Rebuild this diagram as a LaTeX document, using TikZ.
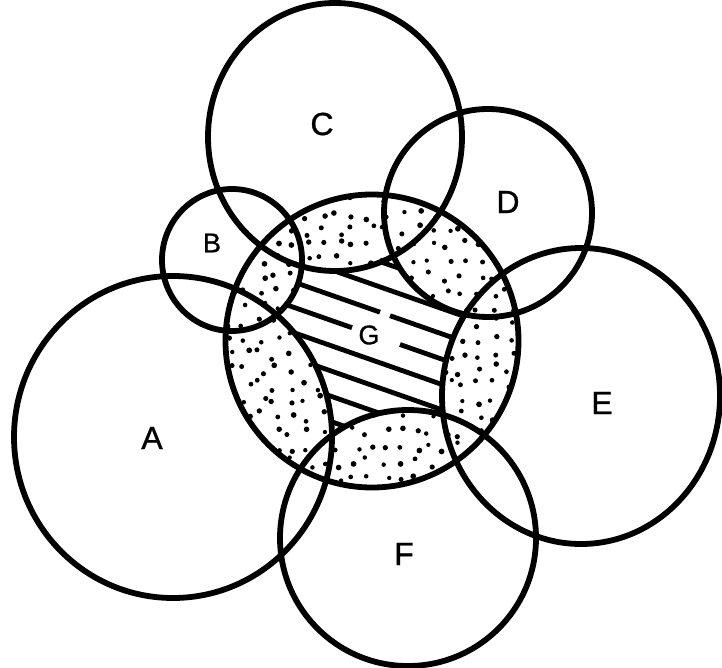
\documentclass[tikz,border=0pt]{standalone}
\usepackage{fontspec}
\setmainfont{Liberation Sans}
\newfontfamily\lblfont[FakeBold=1]{Liberation Sans}
\begin{document}
\begin{tikzpicture}[x=1pt,y=-1pt,
  ring/.style={line width=5.8pt},
  hatchline/.style={line width=4.8pt},
  lbl/.style={font=\lblfont\fontsize{32}{32}\selectfont, inner sep=0pt},
  lblsmall/.style={font=\lblfont\fontsize{27}{27}\selectfont, inner sep=0pt},
  stipdot/.style={fill=black}]
\useasboundingbox (0,0) rectangle (722,668);
\def\shapelist{173/437/159/161, 232/260/70/71, 335/137/127/134, 488/213/104/104, 581/396/139/148, 408/538/128/128}
% hatching inside G
\begin{scope}
  \clip (372,341) circle [radius=146.5];
  \foreach \k in {-3,-2,1,2,3,4} {
    \draw[hatchline] (200,{334+25.3*\k-0.35*170}) -- (560,{334+25.3*\k+0.35*190});
  }
  \draw[hatchline] (200,249.2) -- (380,312.2);
  \draw[hatchline] (390,315.7) -- (560,375.2);
  \draw[hatchline] (200,274.5) -- (352,327.7);
  \draw[hatchline] (400,344.5) -- (560,400.5);
\end{scope}
% stippled overlaps of G with the other circles
\foreach \cx/\cy/\rx/\ry in \shapelist {
  \begin{scope}
    \clip (372,341) circle [radius=146.5];
    \clip (\cx,\cy) ellipse [x radius=\rx, y radius=\ry];
    \fill[white] (220,190) rectangle (525,495);
    \pgfmathsetseed{12345}
    \foreach \i in {0,...,19} {
      \foreach \j in {0,...,19} {
        \fill[stipdot] ({230+15.5*\i+5.5*rand},{199+15.5*\j+5.5*rand}) circle [radius={2.5+0.4*rand}];
      }
    }
  \end{scope}
}
% circle outlines
\foreach \cx/\cy/\rx/\ry in \shapelist {
  \draw[ring] (\cx,\cy) ellipse [x radius=\rx, y radius=\ry];
}
\draw[ring] (372,341) circle [radius=146.5];
% labels
\node[lbl] (labA) at (152,438) {A};
\node[lblsmall] (labB) at (212,243) {B};
\node[lbl] (labC) at (322,124) {C};
\node[lbl] (labD) at (508,202) {D};
\node[lbl] (labE) at (602,403) {E};
\node[lbl] (labF) at (404,554) {F};
\node[lblsmall] (labG) at (369,335) {G};
\end{tikzpicture}
\end{document}
